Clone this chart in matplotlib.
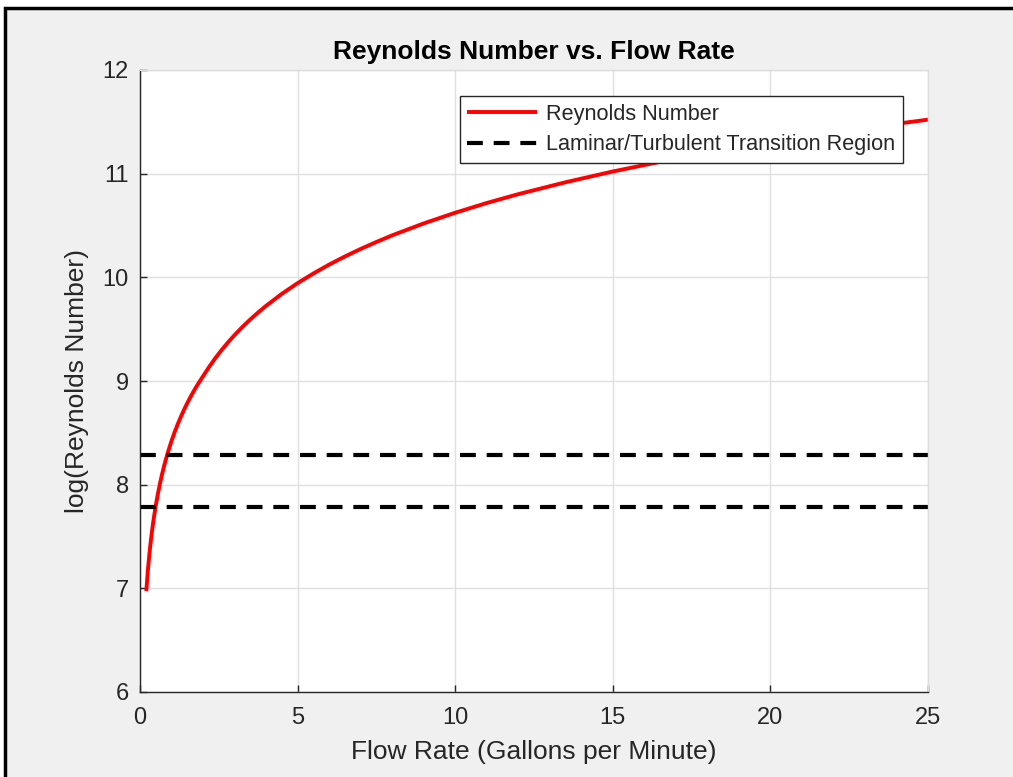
import matplotlib
matplotlib.use("Agg")
import matplotlib.pyplot as plt
from matplotlib.patches import Rectangle

plt.rcParams['font.family'] = ['Liberation Sans', 'DejaVu Sans']

# flow rate (gpm) and log(Re)
flow = [0.2, 0.25, 0.3, 0.36, 0.42, 0.49, 0.56, 0.64, 0.7, 0.76, 0.82, 0.89, 1.0, 1.1, 1.2, 1.3,
        1.4, 1.5, 1.6, 1.7, 1.8, 1.89, 2.0, 2.2, 2.4, 2.6, 2.8, 3.0, 3.25, 3.5, 3.75, 4.0, 4.5,
        5.0, 5.5, 6.0, 6.5, 7.0, 7.5, 8.0, 9.0, 10.0, 11.0, 12.0, 13.5, 15.0, 16.5, 18.0, 20.0,
        22.0, 23.5, 25.0]
log_re = [6.974, 7.174, 7.338, 7.503, 7.641, 7.780, 7.900, 8.020, 8.101, 8.175, 8.243, 8.317,
          8.422, 8.508, 8.586, 8.658, 8.725, 8.787, 8.845, 8.900, 8.951, 8.995, 9.046, 9.139,
          9.225, 9.303, 9.376, 9.443, 9.522, 9.594, 9.662, 9.725, 9.841, 9.944, 10.037, 10.123,
          10.201, 10.274, 10.341, 10.405, 10.520, 10.623, 10.717, 10.802, 10.917, 11.021,
          11.114, 11.199, 11.303, 11.396, 11.461, 11.521]

# laminar / turbulent transition bounds (log Re)
trans_hi = 8.29
trans_lo = 7.78
x_range = [0, 25]

xticks = [0, 5, 10, 15, 20, 25]
yticks = [6, 7, 8, 9, 10, 11, 12]

fig = plt.figure(figsize=(10.13, 7.77), dpi=100, facecolor='white')
# grey window background with the black frame on top/left
fig.patches.append(Rectangle((5 / 1013, -0.1), 1.2, 1.1 - 8 / 777, transform=fig.transFigure,
                             facecolor='#f0f0f0', edgecolor='black', lw=2.5, zorder=-1))

ax = fig.add_axes([140 / 1013, 1 - 692 / 777, 788 / 1013, 622 / 777])
ax.set_facecolor('white')

ax.plot(flow, log_re, color='red', lw=2.8, label='Reynolds Number', solid_capstyle='butt')
ax.plot(x_range, [trans_hi, trans_hi], color='black', lw=3, dashes=(3.8, 2.6),
        label='Laminar/Turbulent Transition Region')
ax.plot(x_range, [trans_lo, trans_lo], color='black', lw=3, dashes=(3.8, 2.6))

ax.set_xlim(0, 25)
ax.set_ylim(6, 12)
ax.set_xticks(xticks)
ax.set_yticks(yticks)
ax.grid(True, color='#e0e0e0', lw=1)
ax.set_axisbelow(True)

for s in ['left', 'bottom']:
    ax.spines[s].set_color('#262626')
    ax.spines[s].set_linewidth(1)
for s in ['top', 'right']:
    ax.spines[s].set_color('#dcdcdc')
    ax.spines[s].set_linewidth(1)

ax.tick_params(direction='in', length=5, width=1, colors='#262626', labelsize=17)
ax.tick_params(axis='x', pad=11)
ax.tick_params(axis='y', pad=8)

ax.set_title('Reynolds Number vs. Flow Rate', fontsize=19, fontweight='bold', pad=8)
ax.set_xlabel('Flow Rate (Gallons per Minute)', fontsize=19, color='#262626', labelpad=8)
ax.set_ylabel('log(Reynolds Number)', fontsize=19, color='#262626', labelpad=10)

leg = ax.legend(loc='upper right', bbox_to_anchor=(0.9683, 0.9582), borderaxespad=0,
                fontsize=15.6, fancybox=False, framealpha=1, edgecolor='#262626',
                handlelength=3.2, handletextpad=0.45, labelspacing=0.45, borderpad=0.35)
leg.get_frame().set_linewidth(1)
for t in leg.get_texts():
    t.set_color('#262626')

fig.savefig('out.png', dpi=100, facecolor=fig.get_facecolor())
